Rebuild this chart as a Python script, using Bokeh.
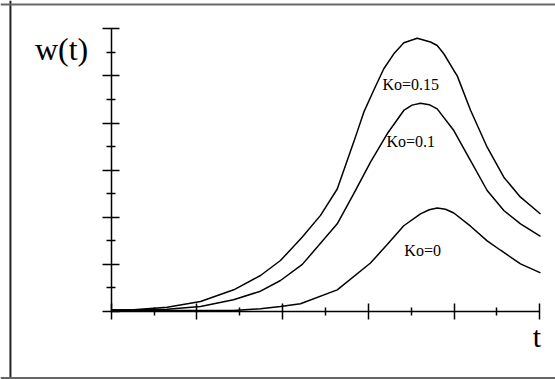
from bokeh.plotting import figure
from bokeh.models import Range1d, FixedTicker, Label, Span
from bokeh.embed import file_html
from bokeh.resources import INLINE

# data
t_015 = [0.0, 0.26, 0.653, 1.042, 1.43, 1.742, 1.975, 2.23, 2.442, 2.637, 2.83, 2.947, 3.064, 3.18, 3.297, 3.414, 3.57, 3.725, 3.803, 3.88, 3.997, 4.037, 4.192, 4.386, 4.58, 4.775, 5.008]
w_015 = [0.03, 0.036, 0.091, 0.212, 0.46, 0.764, 1.082, 1.58, 2.04, 2.60, 3.60, 4.23, 4.70, 5.152, 5.469, 5.703, 5.80, 5.72, 5.645, 5.47, 5.115, 5.0, 4.27, 3.487, 2.85, 2.426, 2.07]

t_010 = [0.0, 0.26, 0.653, 1.042, 1.427, 1.742, 1.975, 2.23, 2.637, 2.83, 3.025, 3.22, 3.413, 3.51, 3.608, 3.71, 3.803, 3.997, 4.192, 4.386, 4.58, 4.775, 5.008]
w_010 = [0.03, 0.032, 0.049, 0.106, 0.248, 0.431, 0.658, 1.0, 1.861, 2.50, 3.168, 3.771, 4.266, 4.38, 4.42, 4.39, 4.30, 3.84, 3.204, 2.568, 2.143, 1.861, 1.592]

t_000 = [0.0, 0.65, 1.042, 1.427, 1.742, 1.975, 2.208, 2.637, 3.025, 3.22, 3.413, 3.608, 3.71, 3.803, 3.90, 3.997, 4.192, 4.386, 4.542, 4.775, 5.008]
w_000 = [0.025, 0.02, 0.02, 0.02, 0.057, 0.106, 0.163, 0.46, 1.03, 1.42, 1.82, 2.073, 2.16, 2.195, 2.17, 2.09, 1.81, 1.50, 1.30, 1.012, 0.82]

x_major = [0, 1, 2, 3, 4, 5]
x_minor = [0.5, 1.5, 2.5, 3.5, 4.5]
y_major = [0, 1, 2, 3, 4, 5, 6]
y_minor = [0.5, 1.5, 2.5, 3.5, 4.5, 5.5]

labels = ["Ko=0.15", "Ko=0.1", "Ko=0"]
label_t = [3.165, 3.212, 3.42]
label_w = [4.82, 3.61, 1.29]

p = figure(width=555, height=379, output_backend="svg", toolbar_location=None,
           x_range=Range1d(-1.291, 5.183), y_range=Range1d(-1.443, 6.600),
           min_border_left=0, min_border_right=0, min_border_top=0, min_border_bottom=0)
p.grid.visible = False
p.outline_line_color = None
p.background_fill_color = "white"
p.border_fill_color = "white"

for ax, maj, mnr, bnd, mi, mo, ni, no in [(p.xaxis, x_major, x_minor, (0, 5), 8, 8, 4, 4),
                                          (p.yaxis, y_major, y_minor, (0, 6), 8, 9, 4, 5)]:
    ax.ticker = FixedTicker(ticks=maj, minor_ticks=mnr)
    ax.bounds = bnd
    ax.fixed_location = 0
    ax.axis_line_color = "black"
    ax.axis_line_width = 1.5
    ax.major_tick_line_color = "black"
    ax.major_tick_line_width = 1.5
    ax.minor_tick_line_color = "black"
    ax.minor_tick_line_width = 1.5
    ax.major_tick_in = mi
    ax.major_tick_out = mo
    ax.minor_tick_in = ni
    ax.minor_tick_out = no
    ax.major_label_text_font_size = "0px"

# outer frame: left, top and bottom edges
p.add_layout(Span(location=-1.175, dimension="height", line_color="#222222", line_width=2))
p.add_layout(Span(location=6.515, dimension="width", line_color="#666666", line_width=2))
p.add_layout(Span(location=-1.411, dimension="width", line_color="#666666", line_width=2))

for tt, ww in [(t_015, w_015), (t_010, w_010), (t_000, w_000)]:
    p.line(tt, ww, line_color="black", line_width=1.5)

for txt, tx, wy in zip(labels, label_t, label_w):
    p.add_layout(Label(x=tx, y=wy, text=txt, text_font="Liberation Serif",
                       text_font_size="16px", text_color="black",
                       text_baseline="alphabetic"))

p.add_layout(Label(x=-0.89, y=5.58, text="w(t)",
                   text_font="Liberation Serif", text_font_size="32px", text_color="black",
                   text_baseline="alphabetic"))
p.add_layout(Label(x=4.918, y=-0.52, text="t",
                   text_font="Liberation Serif", text_font_size="30px", text_color="black",
                   text_baseline="alphabetic"))

open("out.html", "w").write(file_html(p, INLINE))
